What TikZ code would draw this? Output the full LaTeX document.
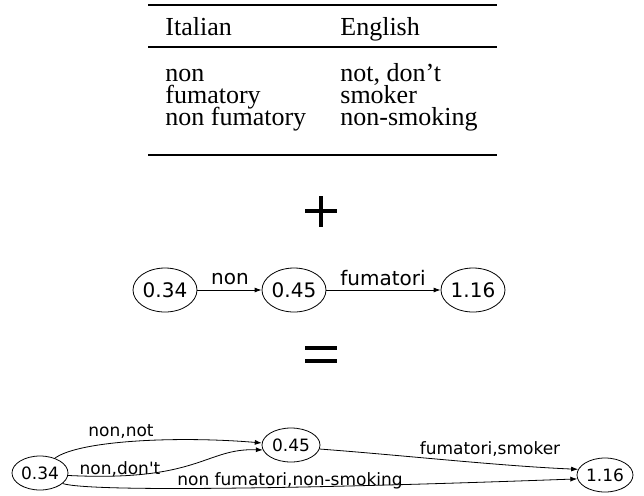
\documentclass[tikz,border=0pt]{standalone}
\usepackage{fontspec}
\setmainfont{Liberation Serif}
\newfontfamily\graphfont{DejaVu Sans}
\usetikzlibrary{shapes.geometric,arrows.meta}
\tikzset{
  tabtext/.style={anchor=base west, inner sep=0pt, font=\fontsize{13}{15}\selectfont},
  midnode/.style={draw, ellipse, line width=0.4pt, inner sep=0pt, minimum width=32pt, minimum height=22pt, font=\graphfont\fontsize{10}{12}\selectfont},
  botnode/.style={draw, ellipse, line width=0.4pt, inner sep=0pt, minimum width=28pt, minimum height=17pt, font=\graphfont\fontsize{8.5}{10}\selectfont},
  midlab/.style={inner sep=0pt, font=\graphfont\fontsize{10}{12}\selectfont},
  botlab/.style={inner sep=0pt, font=\graphfont\fontsize{8.5}{10}\selectfont},
  edge/.style={line width=0.4pt, -{Latex[length=3.5pt,width=2.5pt]}},
  heavyrule/.style={line width=1.3pt},
  lightrule/.style={line width=0.7pt},
  sym/.style={line width=2pt}
}
\begin{document}
\begin{tikzpicture}[x=0.5pt,y=-0.5pt]
\useasboundingbox (0,0) rectangle (644,495);
% table
\coordinate (tl) at (148,5); \coordinate (tr) at (497,5);
\coordinate (ml) at (148,47); \coordinate (mr) at (497,47);
\coordinate (bl) at (148,155); \coordinate (br) at (497,155);
\draw[heavyrule] (tl) -- (tr);
\draw[lightrule] (ml) -- (mr);
\draw[heavyrule] (bl) -- (br);
\node[tabtext] (h1) at (165,35) {Italian};
\node[tabtext] (h2) at (340,35) {English};
\node[tabtext] (r1a) at (165,81) {non};
\node[tabtext] (r1b) at (340,81) {not, don’t};
\node[tabtext] (r2a) at (165,103) {fumatory};
\node[tabtext] (r2b) at (340,103) {smoker};
\node[tabtext] (r3a) at (165,125) {non fumatory};
\node[tabtext] (r3b) at (340,125) {non-smoking};
% plus
\coordinate (p1) at (305,211); \coordinate (p2) at (337,211);
\coordinate (p3) at (321,196); \coordinate (p4) at (321,227);
\draw[sym] (p1) -- (p2);
\draw[sym] (p3) -- (p4);
% middle graph
\node[midnode] (m34) at (165,290) {0.34};
\node[midnode] (m45) at (294,290) {0.45};
\node[midnode] (m116) at (473,290) {1.16};
\draw[edge] (m34) -- (m45);
\draw[edge] (m45) -- (m116);
\node[midlab] (lnon) at (230,279) {non};
\node[midlab] (lfum) at (383,278) {fumatori};
% equals
\coordinate (e1) at (305,348); \coordinate (e2) at (337,348);
\coordinate (e3) at (305,361); \coordinate (e4) at (337,361);
\draw[sym] (e1) -- (e2);
\draw[sym] (e3) -- (e4);
% bottom graph
\node[botnode] (b34) at (40,473) {0.34};
\node[botnode, minimum width=29pt] (b45) at (291,445) {0.45};
\node[botnode] (b116) at (605,475) {1.16};
\draw[edge] (b34.45) .. controls (80,440) and (180,436) .. (b45.176);
\draw[edge] (b34.-5) .. controls (200,482) and (205,448) .. (b45.190);
\draw[edge] (b34.-25) .. controls (90,492) and (300,489) .. (b116.188);
\draw[edge] (b45.-8) .. controls (400,455) and (500,466) .. (b116.168);
\node[botlab] (lnn) at (121,432) {non,not};
\node[botlab] (lnd) at (120,469) {non,don't};
\node[botlab] (lnf) at (290,481) {non fumatori,non-smoking};
\node[botlab] (lfs) at (490,449) {fumatori,smoker};
\end{tikzpicture}
\end{document}
